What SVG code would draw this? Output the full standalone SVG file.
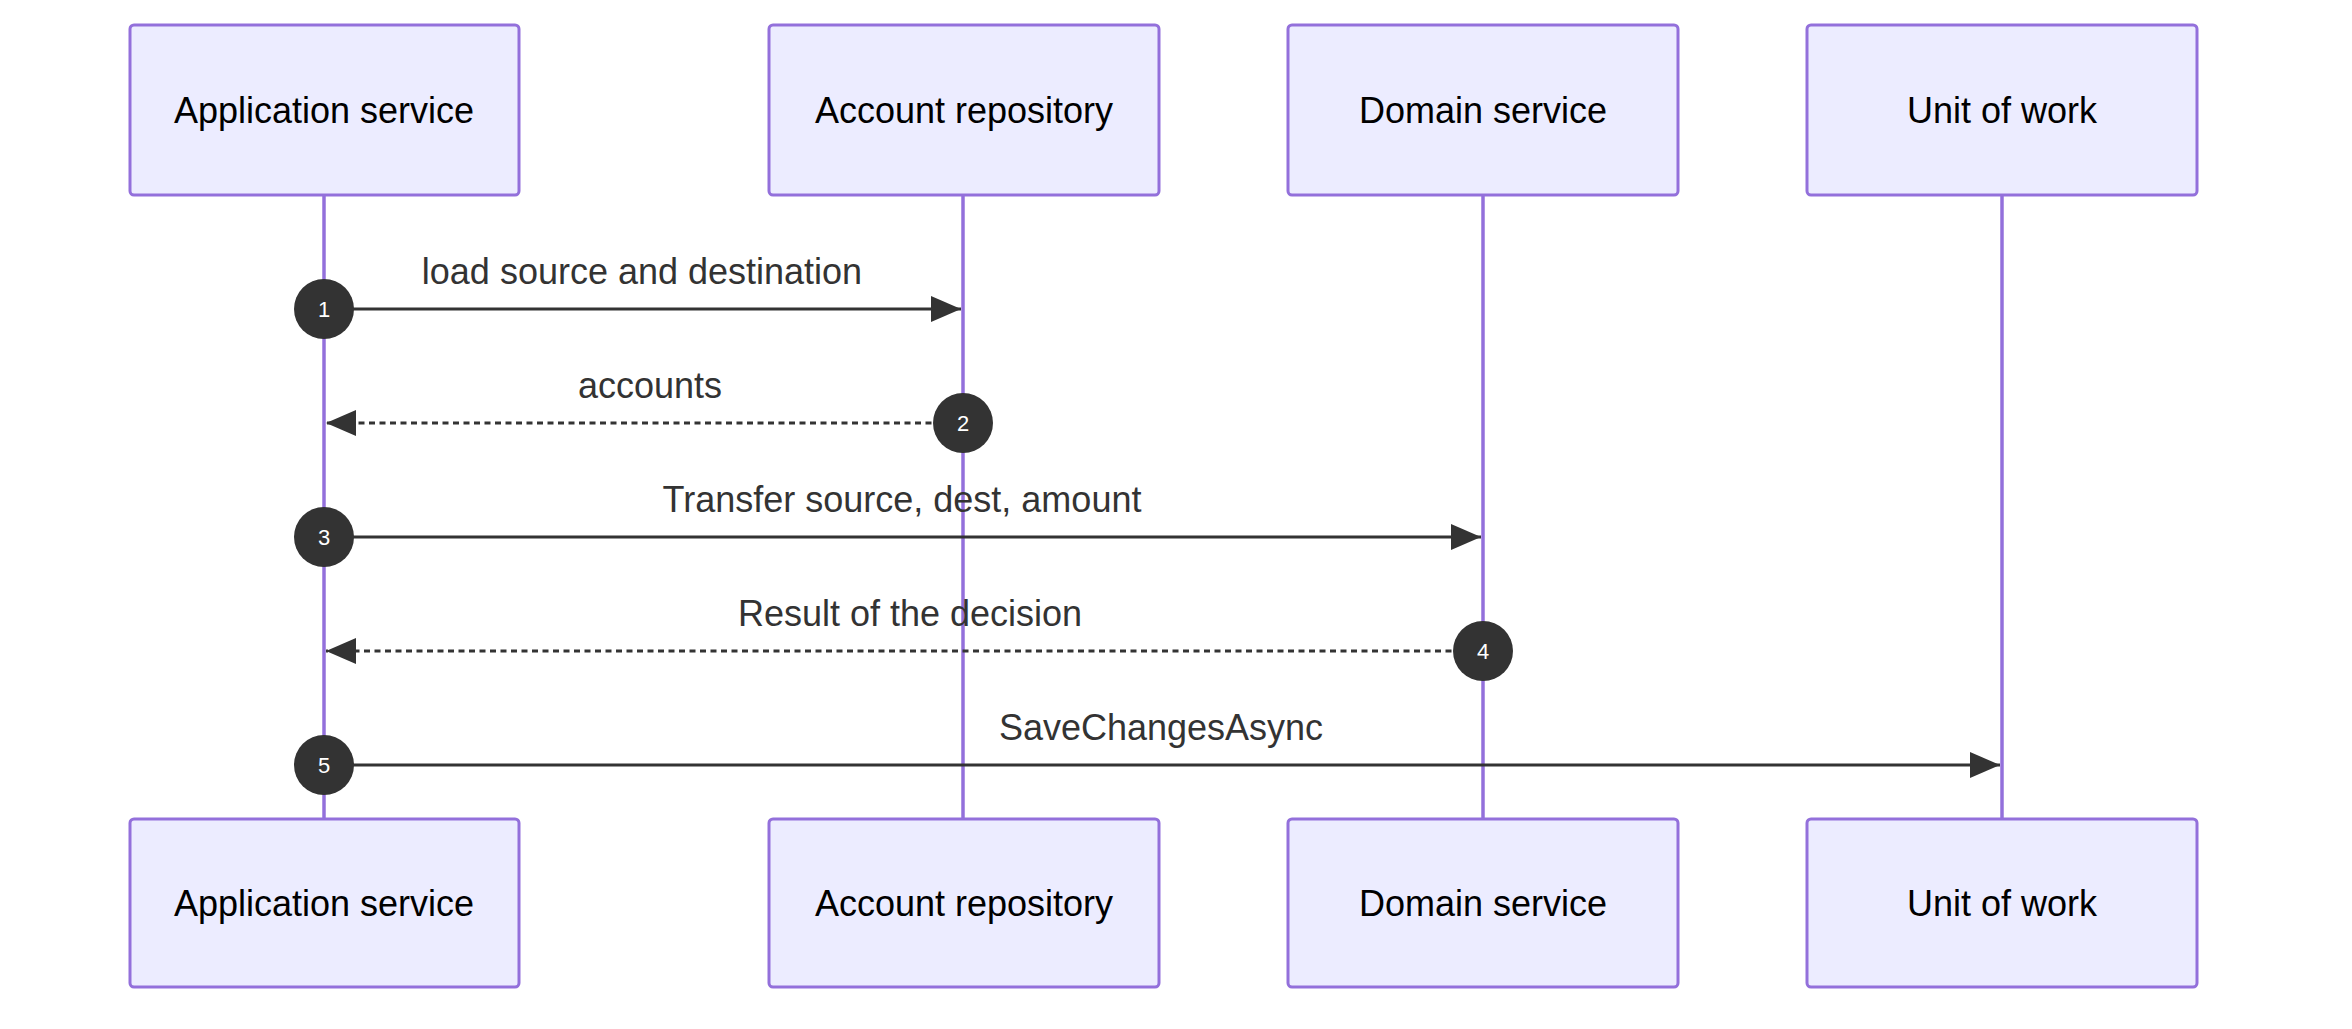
<svg xmlns="http://www.w3.org/2000/svg" width="2352" height="1029" viewBox="0 0 2352 1029">
<style>
.box{fill:#ECECFF;stroke:#9370DB;stroke-width:3}
.life{stroke:#9370DB;stroke-width:3.5}
.bt{font-family:"Liberation Sans",Arial,sans-serif;font-size:36px;fill:#000;text-anchor:middle;dominant-baseline:central}
.ml{font-family:"Liberation Sans",Arial,sans-serif;font-size:36px;fill:#333;text-anchor:middle}
.msg{stroke:#333;stroke-width:3;fill:none}
.dash{stroke-dasharray:6,4.5}
.num{fill:#333}
.nt{font-family:"Liberation Sans",Arial,sans-serif;font-size:22px;fill:#fff;text-anchor:middle;dominant-baseline:central}
</style>
<defs>
<marker id="ah" markerWidth="12" markerHeight="12" refX="12" refY="6" orient="auto-start-reverse" markerUnits="userSpaceOnUse" viewBox="0 0 12 12">
<path d="M0,0 L12,6 L0,12 z" fill="#333"/>
</marker>
<marker id="a" viewBox="0 0 30 26" refX="30" refY="13" markerWidth="30" markerHeight="26" orient="auto" markerUnits="userSpaceOnUse"><path d="M0,0 L30,13 L0,26 z" fill="#333"/></marker>
</defs>
<g id="lifelines">
<line class="life" x1="324" y1="195" x2="324" y2="819"/>
<line class="life" x1="963" y1="195" x2="963" y2="819"/>
<line class="life" x1="1483" y1="195" x2="1483" y2="819"/>
<line class="life" x1="2002" y1="195" x2="2002" y2="819"/>
</g>
<g id="app-top"><rect class="box" x="130" y="25" width="389" height="170" rx="4"/><text class="bt" x="324" y="110">Application service</text></g>
<g id="repo-top"><rect class="box" x="769" y="25" width="390" height="170" rx="4"/><text class="bt" x="964" y="110">Account repository</text></g>
<g id="domain-top"><rect class="box" x="1288" y="25" width="390" height="170" rx="4"/><text class="bt" x="1483" y="110">Domain service</text></g>
<g id="uow-top"><rect class="box" x="1807" y="25" width="390" height="170" rx="4"/><text class="bt" x="2002" y="110">Unit of work</text></g>
<g id="app-bottom"><rect class="box" x="130" y="819" width="389" height="168" rx="4"/><text class="bt" x="324" y="903">Application service</text></g>
<g id="repo-bottom"><rect class="box" x="769" y="819" width="390" height="168" rx="4"/><text class="bt" x="964" y="903">Account repository</text></g>
<g id="domain-bottom"><rect class="box" x="1288" y="819" width="390" height="168" rx="4"/><text class="bt" x="1483" y="903">Domain service</text></g>
<g id="uow-bottom"><rect class="box" x="1807" y="819" width="390" height="168" rx="4"/><text class="bt" x="2002" y="903">Unit of work</text></g>
<g id="connectors">
<line class="msg" x1="324" y1="309" x2="961" y2="309" marker-end="url(#a)"/>
<text class="ml" x="642" y="284">load source and destination</text>
<line class="msg dash" x1="963" y1="423" x2="326" y2="423" marker-end="url(#a)"/>
<text class="ml" x="650" y="398">accounts</text>
<line class="msg" x1="324" y1="537" x2="1481" y2="537" marker-end="url(#a)"/>
<text class="ml" x="902" y="512">Transfer source, dest, amount</text>
<line class="msg dash" x1="1483" y1="651" x2="326" y2="651" marker-end="url(#a)"/>
<text class="ml" x="910" y="626">Result of the decision</text>
<line class="msg" x1="324" y1="765" x2="2000" y2="765" marker-end="url(#a)"/>
<text class="ml" x="1161" y="740">SaveChangesAsync</text>
<circle class="num" cx="324" cy="309" r="30"/><text class="nt" x="324" y="309">1</text>
<circle class="num" cx="963" cy="423" r="30"/><text class="nt" x="963" y="423">2</text>
<circle class="num" cx="324" cy="537" r="30"/><text class="nt" x="324" y="537">3</text>
<circle class="num" cx="1483" cy="651" r="30"/><text class="nt" x="1483" y="651">4</text>
<circle class="num" cx="324" cy="765" r="30"/><text class="nt" x="324" y="765">5</text>
</g>
</svg>
